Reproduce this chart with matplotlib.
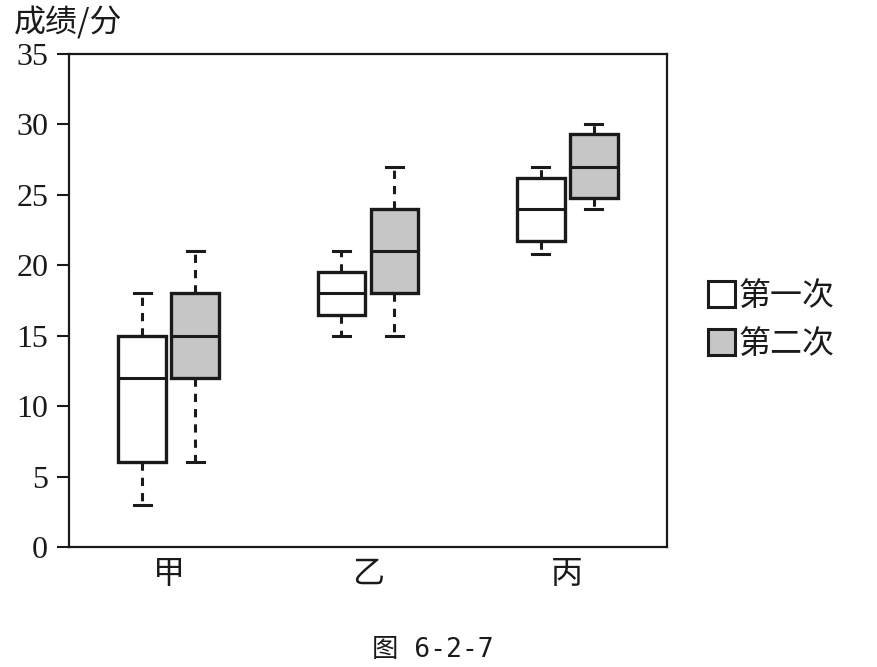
import matplotlib
matplotlib.use("Agg")
import matplotlib.pyplot as plt
import matplotlib.patches as mpatches

plt.rcParams['font.family'] = ['Liberation Serif', 'Noto Sans CJK SC', 'DejaVu Sans']

# --- Data ---
groups = ["甲", "乙", "丙"]
series = ["第一次", "第二次"]
# five-number summaries: [whislo, q1, median, q3, whishi]
first_test = [
    [3, 6, 12, 15, 18],
    [15, 16.5, 18, 19.5, 21],
    [20.8, 21.7, 24, 26.2, 27],
]
second_test = [
    [6, 12, 15, 18, 21],
    [15, 18, 21, 24, 27],
    [24, 24.8, 27, 29.3, 30],
]
yticks = [0, 5, 10, 15, 20, 25, 30, 35]

ink = "#1a1a1a"
fill_colors = ["white", "#c6c6c6"]


def to_stats(rows):
    return [dict(whislo=r[0], q1=r[1], med=r[2], q3=r[3], whishi=r[4], fliers=[])
            for r in rows]


# --- Figure ---
fig = plt.figure(figsize=(8.78, 6.67), dpi=100)
ax = fig.add_axes([0.0786, 0.180, 0.681, 0.739])

offset = 0.133
width = 0.24
for k, data in enumerate([first_test, second_test]):
    pos = [i + 1 + (offset if k else -offset) for i in range(len(groups))]
    ax.bxp(
        to_stats(data), positions=pos, widths=width,
        patch_artist=True, showfliers=False, capwidths=width * 0.36,
        boxprops=dict(facecolor=fill_colors[k], edgecolor=ink, linewidth=2.4),
        medianprops=dict(color=ink, linewidth=2.2),
        whiskerprops=dict(color=ink, linewidth=2.2, linestyle=(0, (2.7, 2.3))),
        capprops=dict(color=ink, linewidth=2.2),
        manage_ticks=False,
    )

ax.set_xlim(0.5, 3.5)
ax.set_ylim(0, 35)
ax.set_yticks(yticks)
ax.set_xticks([1, 2, 3])
ax.set_xticklabels(groups, fontsize=23, family=['Noto Sans CJK SC'])
ax.tick_params(axis='y', length=9, width=1.5, pad=6, labelsize=23, colors=ink)
ax.tick_params(axis='x', length=0, pad=8, colors=ink)
for s in ax.spines.values():
    s.set_linewidth(1.6)
    s.set_color(ink)

# y label at top-left
fig.text(0.016, 0.966, "成绩/分", fontsize=23, ha='left', va='center',
         family=['Noto Sans CJK SC'], color=ink)

# Legend
handles = [mpatches.Patch(facecolor=fill_colors[i], edgecolor=ink, linewidth=2.2,
                          label=series[i]) for i in range(2)]
fig.legend(handles=handles, loc='center left', bbox_to_anchor=(0.774, 0.520),
           frameon=False, handlelength=0.85, handleheight=0.85, handletextpad=0.1,
           labelspacing=0.5, prop={'family': 'Noto Sans CJK SC', 'size': 23},
           labelcolor=ink)

# Caption
fig.text(0.493, 0.026, "图 6-2-7", fontsize=19, ha='center', va='center',
         family=['DejaVu Sans Mono', 'Noto Sans CJK SC'], color=ink)

fig.savefig("out.png", dpi=100, facecolor="white")
